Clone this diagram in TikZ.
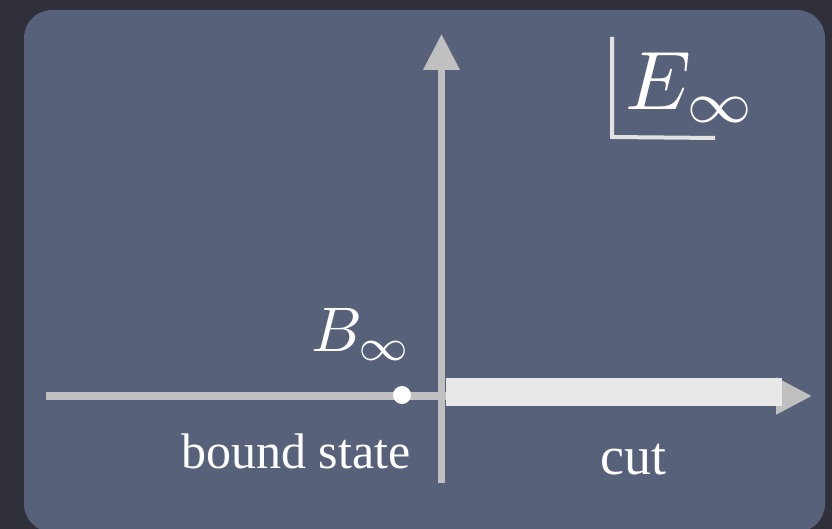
\documentclass[tikz,border=0pt]{standalone}
\usepackage{graphicx}
\usepackage{fontspec}
\newfontfamily\tms{Liberation Serif}
\usetikzlibrary{arrows.meta}
\definecolor{bgdark}{HTML}{30303B}
\definecolor{panel}{HTML}{57627A}
\definecolor{axisgray}{HTML}{C0C0C0}
\definecolor{cutwhite}{HTML}{E8E8E8}
\definecolor{lgray}{HTML}{E2E2E2}
\tikzset{
  axisline/.style={draw=axisgray, line cap=butt},
  label/.style={text=white, inner sep=0pt, anchor=base west},
}
\begin{document}
\begin{tikzpicture}[x=1pt, y=-1pt]
\useasboundingbox (0,0) rectangle (832,529);
\fill[bgdark] (0,0) rectangle (832,529);
\fill[panel, rounded corners=28pt] (24,10) rectangle (825,532);
% coordinates
\coordinate (xstart) at (46,396);
\coordinate (xend) at (812,396);
\coordinate (ystart) at (441.5,483);
\coordinate (yend) at (441.5,34);
\coordinate (cutstart) at (446,392);
\coordinate (cutend) at (782,392);
\coordinate (Ltop) at (612,37);
\coordinate (Lcorner) at (612,137);
\coordinate (Lright) at (715,138);
% axes
\draw[axisline, line width=8pt, -{Triangle[length=36pt,width=35pt]}] (xstart) -- (xend);
\draw[axisline, line width=7pt, -{Triangle[length=36pt,width=35pt]}] (ystart) -- (yend);
% cut
\draw[cutwhite, line width=28pt] (cutstart) -- (cutend);
% bound state dot
\node[circle, fill=white, minimum size=18pt, inner sep=0pt] (dot) at (402,395) {};
% E bracket
\draw[lgray, line width=4pt, line join=miter] (Ltop) -- (Lcorner) -- (Lright);
% labels
\node[label] (E) at (625,110) {\scalebox{8.3}{$E_\infty$}};
\node[label] (B) at (311,351) {\scalebox{6.3}{$B_\infty$}};
\node[label] (bound) at (181,468) {\tms\fontsize{50}{56}\selectfont bound state};
\node[label] (cut) at (600,474) {\tms\fontsize{54}{60}\selectfont cut};
\end{tikzpicture}
\end{document}
